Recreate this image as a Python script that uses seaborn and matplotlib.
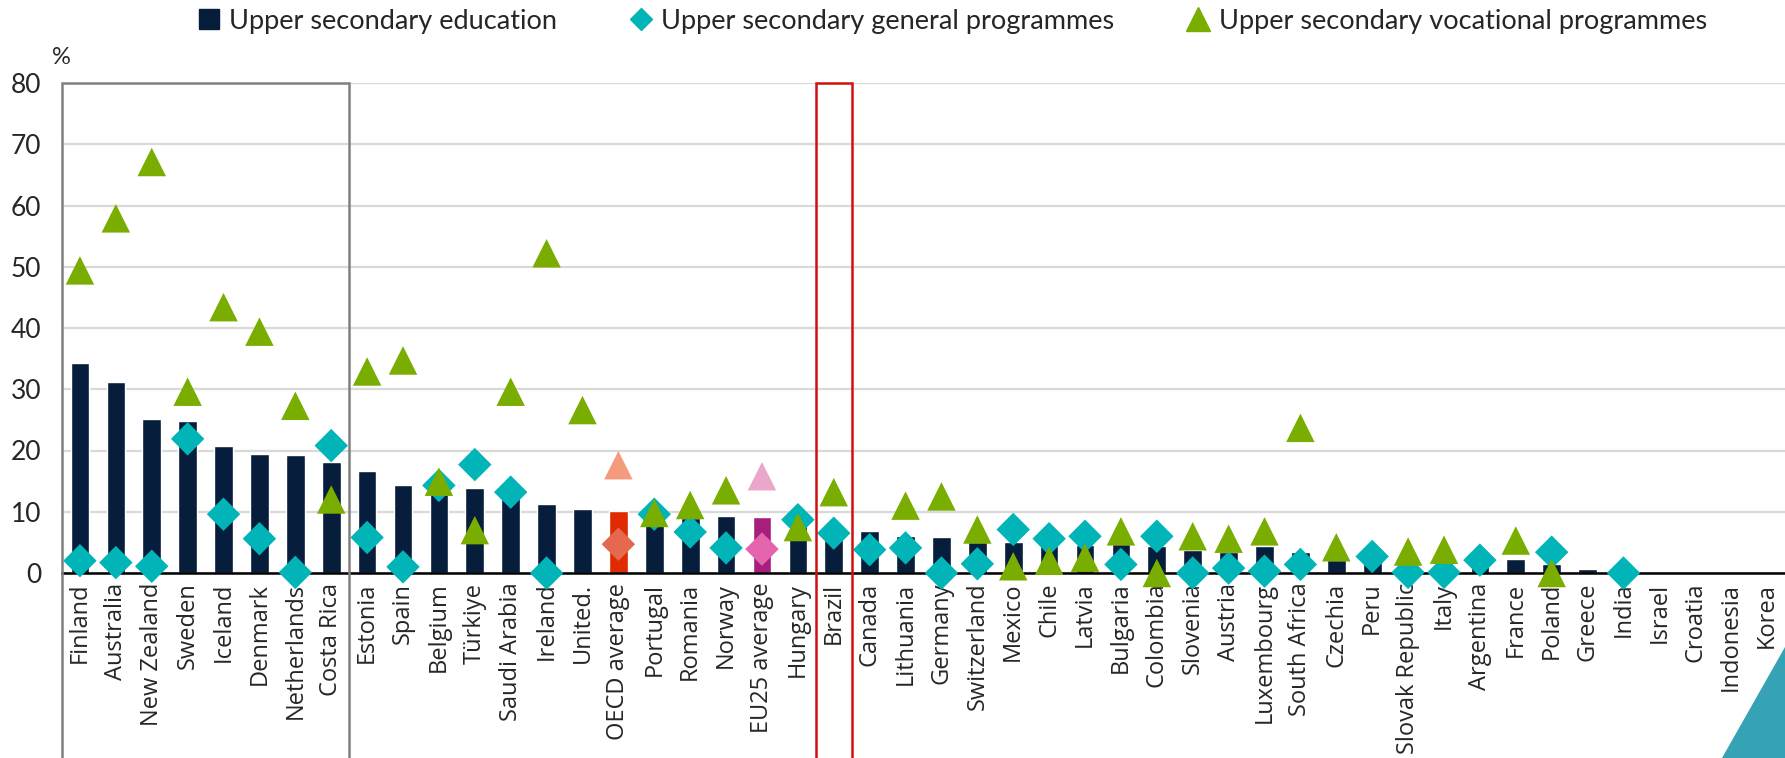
import numpy as np
import pandas as pd
import matplotlib
matplotlib.use("Agg")
import matplotlib.pyplot as plt
from matplotlib.patches import Rectangle, Polygon
from matplotlib.lines import Line2D
import seaborn as sns

countries = ["Finland", "Australia", "New Zealand", "Sweden", "Iceland", "Denmark",
             "Netherlands", "Costa Rica", "Estonia", "Spain", "Belgium", "Türkiye",
             "Saudi Arabia", "Ireland", "United.", "OECD average", "Portugal", "Romania",
             "Norway", "EU25 average", "Hungary", "Brazil", "Canada", "Lithuania",
             "Germany", "Switzerland", "Mexico", "Chile", "Latvia", "Bulgaria",
             "Colombia", "Slovenia", "Austria", "Luxembourg", "South Africa", "Czechia",
             "Peru", "Slovak Republic", "Italy", "Argentina", "France", "Poland",
             "Greece", "India", "Israel", "Croatia", "Indonesia", "Korea"]

upper_secondary = [34.3, 31.2, 25.2, 24.8, 20.7, 19.5, 19.3, 18.2, 16.7, 14.4,
                   13.5, 13.8, 12.8, 11.2, 10.4, 10.2, 9.4, 9.0, 9.3, 9.1,
                   8.3, 7.5, 6.8, 6.0, 5.9, 5.1, 5.1, 4.8, 4.6, 4.7,
                   4.4, 3.8, 3.5, 4.4, 3.5, 2.2, 2.7, 1.5, 1.8, 1.4,
                   2.3, 1.5, 0.7, 0.0, 0.0, 0.0, 0.0, 0.0]

general = [2.0, 1.7, 1.1, 21.9, 9.6, 5.6, 0.1, 20.8, 5.8, 1.0,
           14.3, 17.7, 13.2, 0.0, np.nan, 4.7, 9.6, 6.7, 4.1, 3.9,
           8.7, 6.5, 3.8, 4.1, 0.0, 1.5, 7.1, 5.6, 6.0, 1.4,
           6.0, 0.0, 0.8, 0.3, 1.4, np.nan, 2.7, 0.1, 0.1, 2.1,
           np.nan, 3.4, np.nan, 0.0, np.nan, np.nan, np.nan, np.nan]

vocational = [49.4, 57.9, 67.1, 29.6, 43.4, 39.4, 27.3, 12.0, 32.9, 34.7,
              14.9, 7.0, 29.6, 52.2, 26.6, 17.6, 9.8, 11.1, 13.5, 15.8,
              7.5, 13.2, np.nan, 11.0, 12.5, 7.1, 1.1, 2.0, 2.5, 6.8,
              0.0, 6.0, 5.6, 6.8, 23.7, 4.2, np.nan, 3.5, 3.8, np.nan,
              5.3, 0.0, np.nan, np.nan, np.nan, np.nan, np.nan, np.nan]

legend_labels = ["Upper secondary education", "Upper secondary general programmes",
                 "Upper secondary vocational programmes"]

NAVY = "#061d3b"
TEAL = "#00b4b7"
GREEN = "#79ad00"
special_bar = {"OECD average": "#e02a00", "EU25 average": "#a81e7c"}
special_dia = {"OECD average": "#e4694f", "EU25 average": "#e465ae"}
special_tri = {"OECD average": "#f49b7d", "EU25 average": "#eba7ca"}

df = pd.DataFrame({"country": countries, "edu": upper_secondary,
                   "gen": general, "voc": vocational})
df["pos"] = np.arange(len(df))
df["bar_col"] = [special_bar.get(c, NAVY) for c in countries]
df["dia_col"] = [special_dia.get(c, TEAL) for c in countries]
df["tri_col"] = [special_tri.get(c, GREEN) for c in countries]

sns.set_theme(style="white")
plt.rcParams["font.family"] = ["Open Sans", "DejaVu Sans"]

fig = plt.figure(figsize=(17.85, 7.58), dpi=100)
ax = fig.add_axes([62 / 1785, 185 / 758, 1 - 62 / 1785, 490 / 758])

sns.barplot(data=df, x="pos", y="edu", hue="country",
            palette=dict(zip(df["country"], df["bar_col"])),
            legend=False, width=0.52, saturation=1, ax=ax, zorder=2,
            order=list(df["pos"]))

dg = df.dropna(subset=["gen"])
sns.scatterplot(x=dg["pos"], y=dg["gen"], marker="D", s=290, c=dg["dia_col"],
                linewidth=0, ax=ax, zorder=3)
ax.collections[-1].set_clip_on(False)
dv = df.dropna(subset=["voc"])
sns.scatterplot(x=dv["pos"], y=dv["voc"], marker="^", s=420, c=dv["tri_col"],
                linewidth=0, ax=ax, zorder=4)
ax.collections[-1].set_clip_on(False)

ax.set_xlim(-0.5, len(countries) - 0.5)
ax.set_ylim(0, 80)
ax.set_xlabel("")
ax.set_ylabel("")

ax.set_yticks(np.arange(0, 81, 10))
ax.yaxis.grid(True, color="#d9d9d9", linewidth=1.6, zorder=0)
ax.set_axisbelow(True)
ax.set_xticks(np.arange(len(countries)))
ax.set_xticklabels(countries, rotation=90, fontsize=17, family=["Open Sans", "DejaVu Sans"])
ax.tick_params(axis="x", which="major", length=0, pad=7)
ax.set_xticks(np.arange(len(countries) + 1) - 0.5, minor=True)
ax.tick_params(axis="x", which="minor", direction="in", length=6, width=1.3, color="black")
ax.tick_params(axis="y", direction="in", length=6, width=1.2, color="#808080", pad=15,
               labelsize=19)
for lab in ax.get_yticklabels():
    lab.set_family(["Lato", "DejaVu Sans"])

for s in ["top", "right", "left"]:
    ax.spines[s].set_visible(False)
ax.spines["bottom"].set_color("black")
ax.spines["bottom"].set_linewidth(1.8)
ax.spines["bottom"].set_zorder(2.5)

# highlight boxes
ax.add_patch(Rectangle((-0.5, -31), 8, 111, fill=False, edgecolor="#808080",
                       linewidth=1.8, clip_on=False, zorder=6))
bi = countries.index("Brazil")
ax.add_patch(Rectangle((bi - 0.5, -31), 1, 111, fill=False, edgecolor="#d01010",
                       linewidth=1.8, clip_on=False, zorder=6))

fig.text(61 / 1785, 1 - 58 / 758, "%", fontsize=17, ha="center", va="center",
         family=["Lato", "DejaVu Sans"])

handles = [
    Line2D([], [], marker="s", linestyle="none", markersize=14, color=NAVY),
    Line2D([], [], marker="D", linestyle="none", markersize=11, color=TEAL),
    Line2D([], [], marker="^", linestyle="none", markersize=17, color=GREEN),
]
fig.legend(handles, legend_labels, loc="center", bbox_to_anchor=(0.532, 1 - 21 / 758),
           ncol=3, frameon=False, handletextpad=0.15, columnspacing=2.5,
           handlelength=1.2,
           prop={"family": ["Lato", "DejaVu Sans"], "size": 19.5})

# decorative corner triangle
fig.patches.append(Polygon([(1722 / 1785, 0), (1, 0), (1, 1 - 647 / 758)], closed=True,
                           transform=fig.transFigure, facecolor="#35a2b6",
                           edgecolor="none", zorder=10))

fig.savefig("out.png", dpi=100)
